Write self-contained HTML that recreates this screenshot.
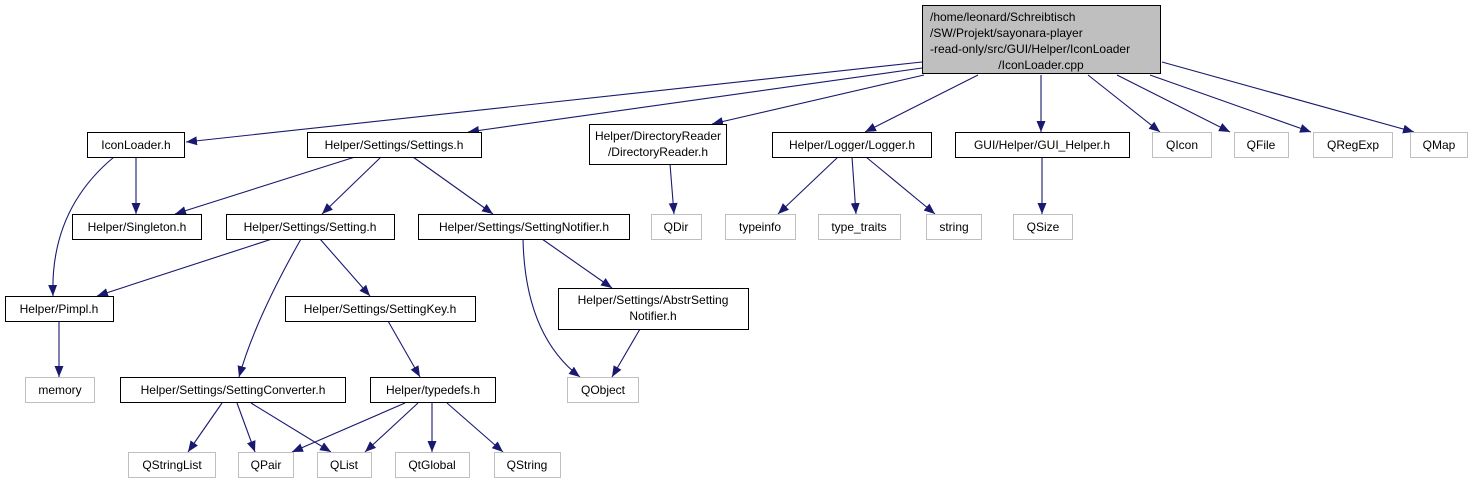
<!DOCTYPE html>
<html><head><meta charset="utf-8"><style>
html,body{margin:0;padding:0;background:#fff;}
svg{display:block;font-family:"Liberation Sans",Arial,sans-serif;font-size:12px;}
</style></head><body>
<svg width="1476" height="484" viewBox="0 0 1476 484" xmlns="http://www.w3.org/2000/svg">
<defs>
<marker id="a" markerWidth="12" markerHeight="10" refX="11" refY="4.5" orient="auto" markerUnits="userSpaceOnUse">
<path d="M0,0 L11,4.5 L0,9 Z" fill="#191970"/>
</marker>
</defs>
<g fill="none" stroke="#191970" stroke-width="1.1" marker-end="url(#a)">
<path d="M922,62 L186,142"/>
<path d="M922,68 L468,132"/>
<path d="M924,75 L712,124"/>
<path d="M978,75 L865,132"/>
<path d="M1041,75 L1041,132"/>
<path d="M1088,75 L1160,132"/>
<path d="M1117,75 L1230,132"/>
<path d="M1150,75 L1311,132"/>
<path d="M1162,62 L1414,132"/>
<path d="M136,157 L136,214"/>
<path d="M114,157 Q50,210 53,296"/>
<path d="M355,157 L175,214"/>
<path d="M381,157 L322,214"/>
<path d="M413,157 L493,214"/>
<path d="M670,164 L674,214"/>
<path d="M272,239 L97,296"/>
<path d="M301,239 Q255,320 239,377"/>
<path d="M320,239 L370,296"/>
<path d="M523,239 Q525,335 580,377"/>
<path d="M542,239 L612,288"/>
<path d="M59,321 L59,377"/>
<path d="M388,321 L420,377"/>
<path d="M640,329 L612,377"/>
<path d="M222,403 L188,452"/>
<path d="M237,403 L255,452"/>
<path d="M251,403 L331,452"/>
<path d="M405,403 L292,452"/>
<path d="M418,403 L365,452"/>
<path d="M432,403 L432,452"/>
<path d="M447,403 L503,452"/>
<path d="M838,157 L778,214"/>
<path d="M852,157 L856,214"/>
<path d="M866,157 L935,214"/>
<path d="M1042,157 L1042,214"/>
</g>
<g stroke-width="1">
<rect x="922.5" y="5.5" width="238" height="68" fill="#bfbfbf" stroke="#000"/>
<g fill="#fff" stroke="#000">
<rect x="87.5" y="132.5" width="97" height="25"/>
<rect x="307.5" y="132.5" width="174" height="25"/>
<rect x="589.5" y="124.5" width="137" height="40"/>
<rect x="772.5" y="132.5" width="159" height="25"/>
<rect x="955.5" y="132.5" width="174" height="25"/>
<rect x="72.5" y="214.5" width="129" height="25"/>
<rect x="226.5" y="214.5" width="168" height="25"/>
<rect x="418.5" y="214.5" width="211" height="25"/>
<rect x="5.5" y="296.5" width="108" height="25"/>
<rect x="285.5" y="296.5" width="190" height="25"/>
<rect x="558.5" y="288.5" width="190" height="41"/>
<rect x="120.5" y="377.5" width="225" height="25"/>
<rect x="370.5" y="377.5" width="125" height="25"/>
</g>
<g fill="#fff" stroke="#bfbfbf">
<rect x="651.5" y="214.5" width="50" height="25"/>
<rect x="1152.5" y="132.5" width="59" height="25"/>
<rect x="1234.5" y="132.5" width="54" height="25"/>
<rect x="1313.5" y="132.5" width="79" height="25"/>
<rect x="1410.5" y="132.5" width="57" height="25"/>
<rect x="725.5" y="214.5" width="70" height="25"/>
<rect x="818.5" y="214.5" width="82" height="25"/>
<rect x="926.5" y="214.5" width="55" height="25"/>
<rect x="1013.5" y="214.5" width="59" height="25"/>
<rect x="25.5" y="377.5" width="69" height="25"/>
<rect x="567.5" y="377.5" width="71" height="25"/>
<rect x="128.5" y="452.5" width="87" height="25"/>
<rect x="238.5" y="452.5" width="55" height="25"/>
<rect x="317.5" y="452.5" width="54" height="25"/>
<rect x="395.5" y="452.5" width="74" height="25"/>
<rect x="494.5" y="452.5" width="66" height="25"/>
</g>
</g>
<g fill="#000">
<text x="930" y="21">/home/leonard/Schreibtisch</text>
<text x="930" y="37">/SW/Projekt/sayonara-player</text>
<text x="930" y="53">-read-only/src/GUI/Helper/IconLoader</text>
<text x="1041" y="69" text-anchor="middle">/IconLoader.cpp</text>
<g text-anchor="middle">
<text x="136" y="149">IconLoader.h</text>
<text x="394" y="149">Helper/Settings/Settings.h</text>
<text x="658" y="140">Helper/DirectoryReader</text>
<text x="658" y="156">/DirectoryReader.h</text>
<text x="852" y="149">Helper/Logger/Logger.h</text>
<text x="1042" y="149">GUI/Helper/GUI_Helper.h</text>
<text x="137" y="231">Helper/Singleton.h</text>
<text x="310" y="231">Helper/Settings/Setting.h</text>
<text x="524" y="231">Helper/Settings/SettingNotifier.h</text>
<text x="59" y="313">Helper/Pimpl.h</text>
<text x="380" y="313">Helper/Settings/SettingKey.h</text>
<text x="653" y="304">Helper/Settings/AbstrSetting</text>
<text x="653" y="320">Notifier.h</text>
<text x="233" y="394">Helper/Settings/SettingConverter.h</text>
<text x="433" y="394">Helper/typedefs.h</text>
</g>
<g text-anchor="middle" fill="#000">
<text x="676" y="231">QDir</text>
<text x="1182" y="149">QIcon</text>
<text x="1261" y="149">QFile</text>
<text x="1353" y="149">QRegExp</text>
<text x="1439" y="149">QMap</text>
<text x="760" y="231">typeinfo</text>
<text x="859" y="231">type_traits</text>
<text x="954" y="231">string</text>
<text x="1043" y="231">QSize</text>
<text x="60" y="394">memory</text>
<text x="603" y="394">QObject</text>
<text x="172" y="469">QStringList</text>
<text x="266" y="469">QPair</text>
<text x="344" y="469">QList</text>
<text x="432" y="469">QtGlobal</text>
<text x="527" y="469">QString</text>
</g>
</g>
</svg>
</body></html>
